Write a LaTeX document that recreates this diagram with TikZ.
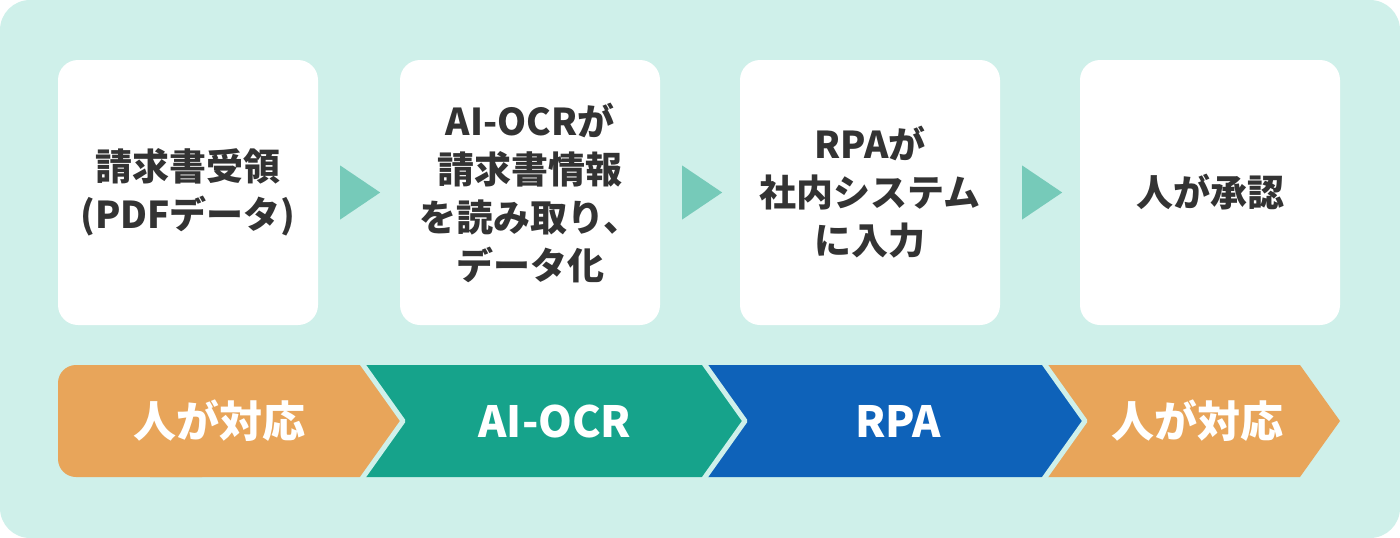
\documentclass[tikz,border=0pt]{standalone}
\usepackage{fontspec}
\setmainfont{Noto Sans CJK JP}
\usetikzlibrary{calc}
\definecolor{bg}{HTML}{CFF0EA}
\definecolor{tri}{HTML}{76CAB9}
\definecolor{org}{HTML}{E8A55A}
\definecolor{tl}{HTML}{16A38B}
\definecolor{bl}{HTML}{0E62B9}
\definecolor{txt}{HTML}{333333}
\tikzset{
 card/.style={fill=white, rounded corners=20pt, minimum width=260pt, minimum height=265pt, inner sep=0pt, align=center, text=txt, font=\fontsize{37}{48}\selectfont\bfseries},
 flowtri/.style={fill=tri},
 chevlabel/.style={text=white, font=\fontsize{43}{50}\selectfont\bfseries, inner sep=0pt},
 gap/.style={draw=bg, line width=5pt, line join=round},
}
\begin{document}
\begin{tikzpicture}[x=1pt,y=-1pt]
\fill[bg, rounded corners=30pt] (0,0) rectangle (1400,538);
\useasboundingbox (0,0) rectangle (1400,538);
% cards
\node[card] (b1) at (188,192.5) {請求書受領\\(PDFデータ)};
\node[card] (b2) at (530,192.5) {AI-OCRが\\請求書情報\\を読み取り、\\データ化};
\node[card] (b3) at (870,192.5) {RPAが\\社内システム\\に入力};
\node[card] (b4) at (1210,192.5) {人が承認};
% arrows between cards
\foreach \a in {b1,b2,b3}{
 \fill[flowtri] ($(\a.east)+(22,-27)$) -- ($(\a.east)+(62,0)$) -- ($(\a.east)+(22,27)$) -- cycle;
}
% chevrons
\fill[org, rounded corners=18pt] (58,365) rectangle (220,477);
\fill[org] (150,365) -- (361,365) -- (403,421) -- (361,477) -- (150,477) -- cycle;
\fill[tl] (361,365) -- (703,365) -- (745,421) -- (703,477) -- (361,477) -- (403,421) -- cycle;
\fill[bl] (703,365) -- (1043,365) -- (1085,421) -- (1043,477) -- (703,477) -- (745,421) -- cycle;
\fill[org] (1043,365) -- (1300,365) -- (1340,421) -- (1300,477) -- (1043,477) -- (1085,421) -- cycle;
\draw[gap] (361,362) -- (403,421) -- (361,480);
\draw[gap] (703,362) -- (745,421) -- (703,480);
\draw[gap] (1043,362) -- (1085,421) -- (1043,480);
% labels
\node[chevlabel] (c1) at (219,421) {人が対応};
\node[chevlabel] (c2) at (555,421) {AI-OCR};
\node[chevlabel] (c3) at (898,421) {RPA};
\node[chevlabel] (c4) at (1197,421) {人が対応};
\end{tikzpicture}
\end{document}
